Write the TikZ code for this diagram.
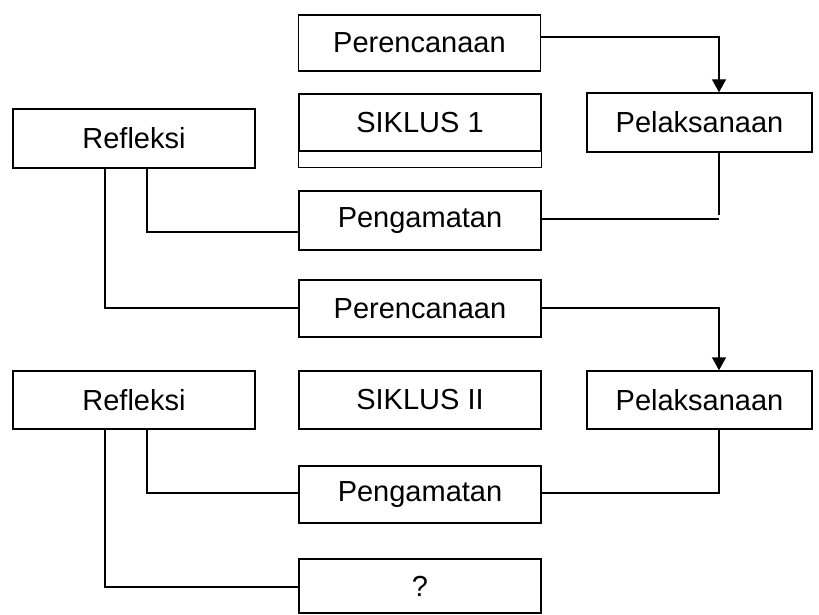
\documentclass[tikz,border=0pt]{standalone}
\usepackage{fontspec}
\setmainfont{Liberation Sans}
\usetikzlibrary{arrows.meta}
\begin{document}
\begin{tikzpicture}[x=1pt,y=-1pt,
  box/.style={draw,line width=1.4pt,rectangle,inner sep=0pt,font=\fontsize{29}{34}\selectfont},
  conn/.style={line width=1.4pt},
  arr/.style={line width=1.4pt,-{Triangle[length=13pt,width=14pt]}}]
\useasboundingbox (0,0) rectangle (819,615);
% column 1
\node[box,minimum width=242pt,minimum height=56pt] (per1) at (419.5,43) {Perencanaan};
\node[box,minimum width=242pt,minimum height=57pt] (sik1) at (420,122.5) {SIKLUS 1};
\draw[conn] (sik1.south west) rectangle ([yshift=-16pt]sik1.south east);
\node[box,minimum width=225pt,minimum height=59pt] (pel1) at (699.5,122.5) {Pelaksanaan};
\node[box,minimum width=242pt,minimum height=59pt] (ref1) at (134,138.5) {Refleksi};
\node[box,minimum width=242pt,minimum height=59pt] (pen1) at (420,220.5) {Pengamatan};
\node[box,minimum width=242pt,minimum height=57pt] (per2) at (420,308.5) {Perencanaan};
\node[box,minimum width=242pt,minimum height=58pt] (ref2) at (134,400) {Refleksi};
\node[box,minimum width=242pt,minimum height=58pt] (sik2) at (420,400) {SIKLUS II};
\node[box,minimum width=225pt,minimum height=58pt] (pel2) at (699.5,400) {Pelaksanaan};
\node[box,minimum width=242pt,minimum height=57pt] (pen2) at (420,494.5) {Pengamatan};
\node[box,minimum width=242pt,minimum height=54pt] (q) at (420,586) {?};
% helper coordinates
\coordinate (a1) at (719,37);
\coordinate (b1) at (719,215);
\coordinate (b2) at (719,219);
\coordinate (r1) at (147,232);
\coordinate (r2) at (105,308);
\coordinate (a2) at (719,308);
\coordinate (c2) at (719,493);
\coordinate (r3) at (147,493);
\coordinate (r4) at (105,587);
% connectors cycle 1
\draw[arr] (per1.east|-a1) -- (a1) -- (a1|-pel1.north);
\draw[conn] (a1|-pel1.south) -- (b1);
\draw[conn] (pen1.east|-b2) -- (b2);
\draw[conn] (r1|-ref1.south) -- (r1) -- (pen1.west|-r1);
\draw[conn] (r2|-ref1.south) -- (r2) -- (per2.west|-r2);
% connectors cycle 2
\draw[arr] (per2.east|-a2) -- (a2) -- (a2|-pel2.north);
\draw[conn] (a2|-pel2.south) -- (c2) -- (pen2.east|-c2);
\draw[conn] (r3|-ref2.south) -- (r3) -- (pen2.west|-r3);
\draw[conn] (r4|-ref2.south) -- (r4) -- (q.west|-r4);
\end{tikzpicture}
\end{document}
